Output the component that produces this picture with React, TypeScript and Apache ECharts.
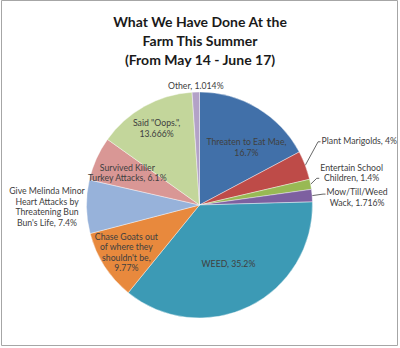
import React, { useEffect, useRef } from "react";
import * as echarts from "echarts";

const titleLines = ["What We Have Done At the", "Farm This Summer", "(From May 14 - June 17)"];

const categories = [
  "Threaten to Eat Mae",
  "Plant Marigolds",
  "Entertain School Children",
  "Mow/Till/Weed Wack",
  "WEED",
  "Chase Goats out of where they shouldn't be",
  "Give Melinda Minor Heart Attacks by Threatening Bun Bun's Life",
  "Survived Killer Turkey Attacks",
  'Said "Oops."',
  "Other",
];

const values = [16.7, 4, 1.4, 1.716, 35.2, 9.77, 7.4, 6.1, 13.666, 1.014];

// how each name is wrapped in its label, as in the picture
const wrappedNames = [
  "Threaten to Eat Mae",
  "Plant Marigolds",
  "Entertain School\nChildren",
  "Mow/Till/Weed\nWack",
  "WEED",
  "Chase Goats out\nof where they\nshouldn't be",
  "Give Melinda Minor\nHeart Attacks by\nThreatening Bun\nBun's Life",
  "Survived Killer\nTurkey Attacks",
  'Said "Oops."',
  "Other",
];
const valueOnOwnLine = [true, false, false, false, false, true, false, false, true, false];

const colors = [
  "#4170A9", "#BE4B48", "#98B954", "#7D60A0", "#3C9AB5",
  "#E8893D", "#97B2DA", "#D99795", "#C3D69B", "#B3A2C7",
];

// label placement styles (radius factor / angle nudge for inside labels, offsets for outside)
const placement: any[] = [
  { kind: "in", f: 0.66, da: 8 },
  { kind: "line", dx: 54, dy: -25, ly: 1.5 },
  { kind: "line", dx: 41, dy: -12, ly: 6 },
  { kind: "line", dx: 45, dy: 1.5, ly: -3 },
  { kind: "in", f: 0.58, da: 0 },
  { kind: "in", f: 0.77, da: 0 },
  { kind: "free", dx: -39.5, dy: 0 },
  { kind: "in", f: 0.7, da: 0 },
  { kind: "in", f: 0.78, da: 0 },
  { kind: "free", dx: 0, dy: -7 },
];

const CX = 199.5;
const CY = 205;
const R = 113;
const FONT = "Lato, 'Open Sans', sans-serif";

export default function App() {
  const ref = useRef<HTMLDivElement>(null);
  useEffect(() => {
    if (!ref.current) return;
    const chart = echarts.init(ref.current, undefined, { renderer: "svg" });
    const total = values.reduce((a, b) => a + b, 0);
    const mids: number[] = [];
    let acc = 0;
    values.forEach((v) => {
      mids.push(((acc + v / 2) / total) * Math.PI * 2);
      acc += v;
    });
    const polar = (a: number, r: number) => [CX + r * Math.sin(a), CY - r * Math.cos(a)];

    const data = categories.map((name, i) => {
      const p = placement[i];
      return {
        name,
        value: values[i],
        itemStyle: { color: colors[i] },
        label: { position: p.kind === "in" ? "inside" : "outside" },
        labelLine: { show: p.kind === "line" },
      };
    });

    chart.setOption({
      animation: false,
      backgroundColor: "#ffffff",
      title: {
        text: titleLines.join("\n"),
        left: "center",
        top: 7,
        textStyle: {
          fontFamily: FONT,
          fontSize: 14,
          fontWeight: "bold",
          color: "#1a1a1a",
          lineHeight: 19,
        },
      },
      graphic: [
        {
          type: "rect",
          shape: { x: 1.5, y: 0.5, width: 396, height: 345 },
          style: { fill: "none", stroke: "#a6a6a6", lineWidth: 1 },
          silent: true,
        },
      ],
      series: [
        {
          type: "pie",
          center: [CX, CY],
          radius: [0, R],
          startAngle: 90,
          clockwise: true,
          avoidLabelOverlap: false,
          itemStyle: { borderColor: "#ffffff", borderWidth: 0.4 },
          label: {
            show: true,
            color: "#404040",
            fontFamily: FONT,
            fontSize: 8.7,
            lineHeight: 10.5,
            overflow: "none",
            align: "center",
            formatter: (p: any) =>
              wrappedNames[p.dataIndex] +
              (valueOnOwnLine[p.dataIndex] ? ",\n" : ", ") +
              values[p.dataIndex] +
              "%",
          },
          labelLine: {
            length: 10,
            length2: 5,
            lineStyle: { color: "#404040", width: 0.8 },
          },
          labelLayout: (params: any) => {
            const i = params.dataIndex;
            const p = placement[i];
            const w = params.labelRect.width;
            if (p.kind === "in") {
              const [x, y] = polar(mids[i] + (p.da * Math.PI) / 180, p.f * R);
              return { x, y, align: "center", verticalAlign: "middle" };
            }
            const edge = polar(mids[i], R);
            const x = edge[0] + p.dx;
            const y = edge[1] + p.dy;
            if (p.kind === "line") {
              const left = x - w / 2;
              const yl = y + p.ly;
              return {
                x,
                y,
                align: "center",
                verticalAlign: "middle",
                labelLinePoints: [edge, [left - 3.5, yl], [left - 1, yl]],
              };
            }
            return { x, y, align: "center", verticalAlign: "middle" };
          },
          data,
        },
      ],
    });
    return () => chart.dispose();
  }, []);
  return (
    <div
      ref={ref}
      style={{ position: "absolute", left: 0, top: 0, width: 400, height: 348, background: "#fff" }}
    />
  );
}
